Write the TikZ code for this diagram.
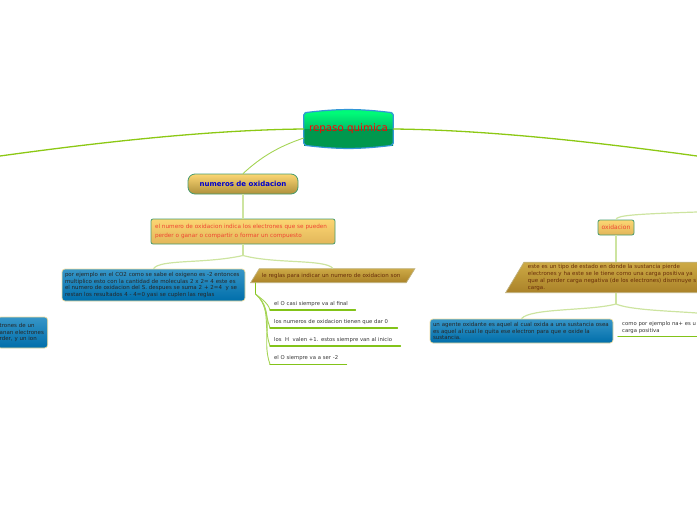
\documentclass[tikz,border=0pt]{standalone}
\usepackage{fontspec}
\setmainfont{DejaVu Sans}
\usetikzlibrary{shapes.geometric}

\definecolor{rootTop}{RGB}{0,250,120}
\definecolor{rootMid}{RGB}{0,190,105}
\definecolor{rootLow}{RGB}{0,152,78}
\definecolor{rootLine}{RGB}{50,150,215}
\definecolor{trunkGreen}{RGB}{140,200,20}
\definecolor{paleGreen}{RGB}{205,228,160}
\definecolor{midGreen}{RGB}{165,212,85}
\definecolor{underGreen}{RGB}{130,195,25}
\definecolor{boxGreen}{RGB}{70,155,110}
\definecolor{orangeTop}{RGB}{252,214,115}
\definecolor{orangeLow}{RGB}{226,182,90}
\definecolor{goldTop}{RGB}{205,170,70}
\definecolor{goldLow}{RGB}{170,130,40}
\definecolor{blueTop}{RGB}{55,150,200}
\definecolor{blueLow}{RGB}{0,110,170}
\definecolor{cream}{RGB}{240,222,160}
\definecolor{brownText}{RGB}{105,45,10}
\definecolor{redText}{RGB}{240,70,50}

\pgfdeclareverticalshading{rootshade}{100bp}{
  color(0bp)=(rootLow); color(25bp)=(rootLow); color(50bp)=(rootLow);
  color(50bp)=(rootMid); color(75bp)=(rootTop); color(100bp)=(rootTop)}

\tikzset{
  small/.style={font=\fontsize{5.5}{6.7}\selectfont},
  rootbox/.style={shading=rootshade, minimum width=89pt,
    minimum height=32pt, inner sep=0pt, text=red, font=\fontsize{10.3}{12}\selectfont},
  rootedge/.style={draw=rootLine, line width=1.2pt},
  orange/.style={draw=boxGreen, line width=.8pt, rounded corners=2pt, top color=orangeTop,
    bottom color=orangeLow, inner sep=0pt},
  bluebox/.style={draw=cream, line width=.7pt, rounded corners=3pt, top color=blueTop,
    bottom color=blueLow, small, align=left, text=black!85, inner sep=0pt},
  gold/.style={trapezium, trapezium stretches body, draw=black!20!cream, line width=.7pt, top color=goldTop,
    bottom color=goldLow, small, align=left, text=brownText, inner sep=2.5pt},
  topic/.style={font=\fontsize{5.3}{6.7}\selectfont, anchor=west, inner xsep=4pt, inner ysep=3pt,
    text=black!80, align=left},
  trunk/.style={draw=trunkGreen, line width=1.3pt},
  branch/.style={draw=paleGreen, line width=1.2pt},
  thinbranch/.style={draw=midGreen, line width=.9pt},
  topicline/.style={color=underGreen, line width=1.5pt, line cap=round}
}

\begin{document}
\begin{tikzpicture}[x=1pt, y=-1pt]

   \useasboundingbox (0,0) rectangle (697,520);
   \clip (0,0) rectangle (697,520);

   \coordinate (vfinL) at (0,156);
   \coordinate (vfinR) at (697,156);
   \coordinate (vfinO) at (697,212);
   \coordinate (vfinC) at (697,313);
   \coordinate (vforkA) at (243,255.5);
   \coordinate (vforkB) at (616,304);
   \coordinate (vstem) at (255.5,294);

   \node [rootbox] (vroot) at (348.5,129) {repaso quimica};
   \fill [rootTop] (vroot.north west) to[bend left=7] (vroot.north east) -- cycle;
   \fill [rootLow] (vroot.south east) to[bend left=7] (vroot.south west) -- cycle;
   \draw [rootedge, rounded corners=2pt] (vroot.north west) to[bend left=7] (vroot.north east)
      -- (vroot.south east) to[bend left=7] (vroot.south west) -- cycle;

   \node [orange, rounded corners=7pt, minimum width=110pt, minimum height=20pt, text=blue!80!black,
      top color=orangeTop, bottom color=goldTop!85!black,
      font=\fontsize{7}{8}\bfseries\selectfont] (vnum) at (243,184) {numeros de oxidacion};
   \node [orange, minimum width=184pt, minimum height=25pt, text=redText, align=left,
      text width=176pt, font=\fontsize{5.7}{9.3}\selectfont] (vdef) at (243,231.5)
      {el numero de oxidacion indica los electrones que se pueden\\perder o ganar o compartir o formar un compuesto};
   \node [bluebox, minimum width=183pt, minimum height=32pt, text width=177pt] (vejem) at (153.5,285)
      {por ejemplo en el CO2 como se sabe el oxigeno es -2 entonces\\multiplico esto con la cantidad de moleculas 2 x 2= 4 este es\\el numero de oxidacion del S. despues se suma 2 + 2=4 \ y se\\restan los resultados 4 - 4=0 yasi se cuplen las reglas};
   \node [bluebox, minimum width=50pt, minimum height=31pt, text width=46pt, anchor=east] (vizq) at (48,332.5)
      {trones de un\\anan electrones\\rder, y un ion\\ };
   \node [gold, trapezium left angle=50, trapezium right angle=130, anchor=bottom left corner,
      minimum height=14pt, text width=142pt] (vregla) at (250,283)
      {le reglas para indicar un numero de oxidacion son};

   \node [orange, minimum width=36pt, minimum height=15pt, text=redText, font=\fontsize{6}{7}\selectfont] (voxi) at (616,227.5) {oxidacion};
   \node [gold, trapezium left angle=59, trapezium right angle=121, anchor=bottom left corner,
      text width=185pt, inner xsep=4pt] (vtipo) at (505,293)
      {este es un tipo de estado en donde la sustancia pierde\\electrones y ha este se le tiene como una carga positiva ya\\que al perder carga negativa (de los electrones) disminuye s\\carga.};
   \node [bluebox, minimum width=183pt, minimum height=24pt, text width=177pt] (vagente) at (521.5,331)
      {un agente oxidante es aquel al cual oxida a una sustancia osea\\es aquel al cual le quita ese electron para que e oxide la\\sustancia.};
   \node [topic, align=left, text width=100pt, inner xsep=4pt] (vcomo) at (618,327.5)
      {como por ejemplo na+ es u\\carga positiva};

   \foreach [count=\i] \y/\w/\t in {304/85/el O casi siempre va al final,
        322/127/los numeros de oxidacion tienen que dar 0,
        340/130/los \ H \ valen +1. estos siempre van al inicio,
        358.5/76/el O siempre va a ser -2}
     \node [topic, minimum width=\w pt, text width=\w pt-8pt] (vt\i) at (270,\y) {\t};

   % tronco
   \draw [trunk] (vroot.west) .. controls (200,130) and (80,145) .. (vfinL);
   \draw [trunk] (vroot.east) .. controls (497,130) and (617,145) .. (vfinR);
   \draw [thinbranch] ([yshift=-9pt]vroot.west) .. controls (280,146) and (262,156) .. (vnum.north);

   % numeros de oxidacion
   \draw [branch] (vnum.south) -- (vdef.north);
   \draw [branch] (vdef.south) -- (vforkA);
   \draw [branch] (vforkA) .. controls (205,264) and (160,259) .. (vejem.north);
   \draw [branch] (vforkA) .. controls (275,264) and (325,259) .. (vregla.north);
   \draw [topicline] (vstem |- vregla.south) -- (vstem);
   \foreach \i in {1,...,4} {
     \draw [thinbranch] (vstem) to[out=-40,in=110] (vt\i.south west);
     \draw [topicline] (vt\i.south west) -- (vt\i.south east);
   }

   % oxidacion
   \draw [branch] (voxi.north) .. controls (616,215) and (640,214) .. (vfinO);
   \draw [branch] (voxi.south) -- (voxi.south |- vtipo.north);
   \draw [branch] (voxi.south |- vtipo.south) -- (vforkB);
   \draw [branch] (vforkB) .. controls (590,311) and (530,308) .. (vagente.north);
   \draw [branch] (vforkB) .. controls (630,310) and (670,311) .. (vfinC);
   \draw [topicline] (vcomo.south west) -- (vcomo.south east);
\end{tikzpicture}
\end{document}
